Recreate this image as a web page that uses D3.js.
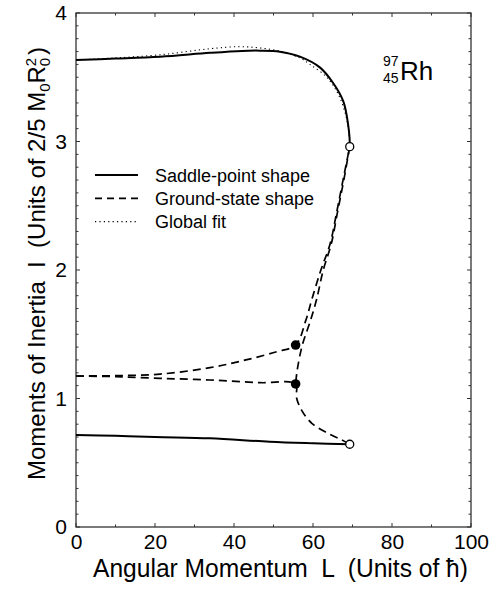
<!DOCTYPE html>
<html>
<head>
<meta charset="utf-8">
<script src="https://cdn.jsdelivr.net/npm/d3@7"></script>
<style>
  body { margin: 0; background: #fff; }
  svg { display: block; }
  text { font-family: "Liberation Sans", Arial, sans-serif; fill: #000; white-space: pre; }
</style>
</head>
<body>
<svg id="chart" width="490" height="592"></svg>
<script>
// Saddle-point shape, upper (oblate/large I) branch
const saddleUpper = [
  [0, 3.634], [10, 3.645], [21.3, 3.66], [33.9, 3.69], [42, 3.705], [46.6, 3.707],
  [51.6, 3.699], [56.7, 3.66], [61.8, 3.575], [65.1, 3.455], [67.7, 3.31],
  [68.9, 3.13], [69.25, 3.03], [69.3, 2.96]
];
// Saddle-point shape, lower branch
const saddleLower = [
  [0, 0.716], [10, 0.71], [20, 0.70], [33.9, 0.69], [49, 0.664], [60, 0.652], [69.3, 0.644]
];
// Ground-state shape: from L=0 through upper dot up to the top circle
const groundUpper = [
  [0, 1.175], [10, 1.178], [21.3, 1.19], [33.9, 1.24], [43, 1.30], [50.8, 1.364],
  [55.6, 1.416], [58.2, 1.61], [59.7, 1.77], [62, 2.0], [64.3, 2.2], [66, 2.45],
  [67.6, 2.7], [69.3, 2.96]
];
// Ground-state shape: top circle down to the lower dot
const groundLink = [
  [69.3, 2.96], [67.8, 2.7], [66.2, 2.45], [64.6, 2.2], [62.6, 2.0], [60.9, 1.77],
  [59.4, 1.61], [57.3, 1.416], [56.0, 1.22], [55.6, 1.113]
];
// Ground-state shape: from L=0 through lower dot down to the bottom circle
const groundLower = [
  [0, 1.175], [10, 1.17], [21.3, 1.157], [33.9, 1.144], [46.6, 1.123], [55.6, 1.113],
  [55.8, 1.01], [57.1, 0.91], [59.7, 0.807], [63.8, 0.729], [67.3, 0.677], [69.3, 0.644]
];
// Global fit
const globalFit = [
  [0, 3.634], [10, 3.65], [21.3, 3.675], [33.9, 3.722], [41.5, 3.738], [46.6, 3.728],
  [51.6, 3.703], [56.7, 3.65], [59.2, 3.6], [63.5, 3.5], [66.5, 3.36], [68.5, 3.18], [69.3, 3.0]
];
const openPoints = [[69.3, 2.96], [69.3, 0.644]];
const filledPoints = [[55.6, 1.416], [55.6, 1.113]];

const xTicks = [0, 20, 40, 60, 80, 100];
const yTicks = [0, 1, 2, 3, 4];
const legendItems = ["Saddle-point shape", "Ground-state shape", "Global fit"];

const svg = d3.select("#chart");
const margin = { top: 13, right: 19, bottom: 65, left: 76 };
const width = 490, height = 592;

const x = d3.scaleLinear().domain([0, 100]).range([margin.left, width - margin.right]);
const y = d3.scaleLinear().domain([0, 4]).range([height - margin.bottom, margin.top]);

// frame
svg.append("rect")
  .attr("x", x(0)).attr("y", y(4))
  .attr("width", x(100) - x(0)).attr("height", y(0) - y(4))
  .attr("fill", "none").attr("stroke", "#222").attr("stroke-width", 1.2);

// minor ticks, inside, on all four sides
const yMinor = d3.range(0, 4.001, 0.1);
const xMinor = d3.range(0, 100.001, 10);
const tickG = svg.append("g").attr("stroke", "#333").attr("stroke-width", 1);
yMinor.forEach(v => {
  const len = Math.abs(v - Math.round(v)) < 1e-6 ? 4 : 2.5;
  tickG.append("line").attr("x1", x(0)).attr("x2", x(0) + len).attr("y1", y(v)).attr("y2", y(v));
  tickG.append("line").attr("x1", x(100)).attr("x2", x(100) - len).attr("y1", y(v)).attr("y2", y(v));
});
xMinor.forEach(v => {
  const len = v % 20 === 0 ? 4 : 2.5;
  tickG.append("line").attr("y1", y(0)).attr("y2", y(0) - len).attr("x1", x(v)).attr("x2", x(v));
  tickG.append("line").attr("y1", y(4)).attr("y2", y(4) + len).attr("x1", x(v)).attr("x2", x(v));
});

// tick labels through axes
const xAxis = svg.append("g")
  .attr("transform", `translate(0,${y(0)})`)
  .call(d3.axisBottom(x).tickValues(xTicks).tickSize(0).tickPadding(7).tickFormat(d3.format("d")));
const yAxis = svg.append("g")
  .attr("transform", `translate(${x(0)},0)`)
  .call(d3.axisLeft(y).tickValues(yTicks).tickSize(0).tickPadding(9).tickFormat(d3.format("d")));
[xAxis, yAxis].forEach(g => {
  g.select(".domain").remove();
  g.selectAll("text")
    .style("font-family", "'Liberation Sans', Arial, sans-serif")
    .style("font-size", "21px")
    .attr("fill", "#000");
});

// axis titles
svg.append("text")
  .attr("x", 93).attr("y", 577)
  .attr("textLength", 375).attr("lengthAdjust", "spacingAndGlyphs")
  .style("font-size", "26px")
  .text("Angular Momentum  L  (Units of ħ)");

const yTitle = svg.append("text")
  .attr("transform", "translate(45,480) rotate(-90)")
  .style("font-size", "24px");
yTitle.append("tspan").text("Moments of Inertia  I  (Units of 2/5 M");
yTitle.append("tspan").attr("dy", 5).style("font-size", "15px").text("0");
yTitle.append("tspan").attr("dy", -5).text("R");
yTitle.append("tspan").attr("dy", 5).style("font-size", "15px").text("0");
yTitle.append("tspan").attr("dx", -8.5).attr("dy", -14).style("font-size", "15px").text("2");
yTitle.append("tspan").attr("dx", 3).attr("dy", 9).text(")");

// nuclide label
svg.append("text").attr("x", 383).attr("y", 66).style("font-size", "14px").text("97");
svg.append("text").attr("x", 383).attr("y", 83).style("font-size", "14px").text("45");
svg.append("text").attr("x", 400).attr("y", 80).style("font-size", "26px").text("Rh");

// curves
const line = d3.line()
  .x(d => x(d[0])).y(d => y(d[1]))
  .curve(d3.curveCatmullRom.alpha(0.5));

svg.append("path").datum(globalFit).attr("d", line)
  .attr("fill", "none").attr("stroke", "#000").attr("stroke-width", 1.1)
  .attr("stroke-dasharray", "1.2,3.2");
[saddleUpper, saddleLower].forEach(s => {
  svg.append("path").datum(s).attr("d", line)
    .attr("fill", "none").attr("stroke", "#000").attr("stroke-width", 2);
});
[groundUpper, groundLink, groundLower].forEach(s => {
  svg.append("path").datum(s).attr("d", line)
    .attr("fill", "none").attr("stroke", "#000").attr("stroke-width", 1.7)
    .attr("stroke-dasharray", "8,5");
});

// markers
svg.selectAll("circle.open").data(openPoints).join("circle")
  .attr("class", "open")
  .attr("cx", d => x(d[0])).attr("cy", d => y(d[1])).attr("r", 4)
  .attr("fill", "#fff").attr("stroke", "#000").attr("stroke-width", 1.3);
svg.selectAll("circle.filled").data(filledPoints).join("circle")
  .attr("class", "filled")
  .attr("cx", d => x(d[0])).attr("cy", d => y(d[1])).attr("r", 4.8)
  .attr("fill", "#000");

// legend
const legendStyles = [
  { dash: null, w: 2 },
  { dash: "7,5", w: 1.7 },
  { dash: "1.2,3.2", w: 1.1 }
];
const legend = svg.append("g");
legendItems.forEach((name, i) => {
  const ly = 175 + i * 23.3;
  legend.append("line")
    .attr("x1", 95).attr("x2", 138).attr("y1", ly).attr("y2", ly)
    .attr("stroke", "#000").attr("stroke-width", legendStyles[i].w)
    .attr("stroke-dasharray", legendStyles[i].dash);
  legend.append("text")
    .attr("x", 155).attr("y", ly + 6.5)
    .style("font-size", "18px")
    .text(name);
});
</script>
</body>
</html>
